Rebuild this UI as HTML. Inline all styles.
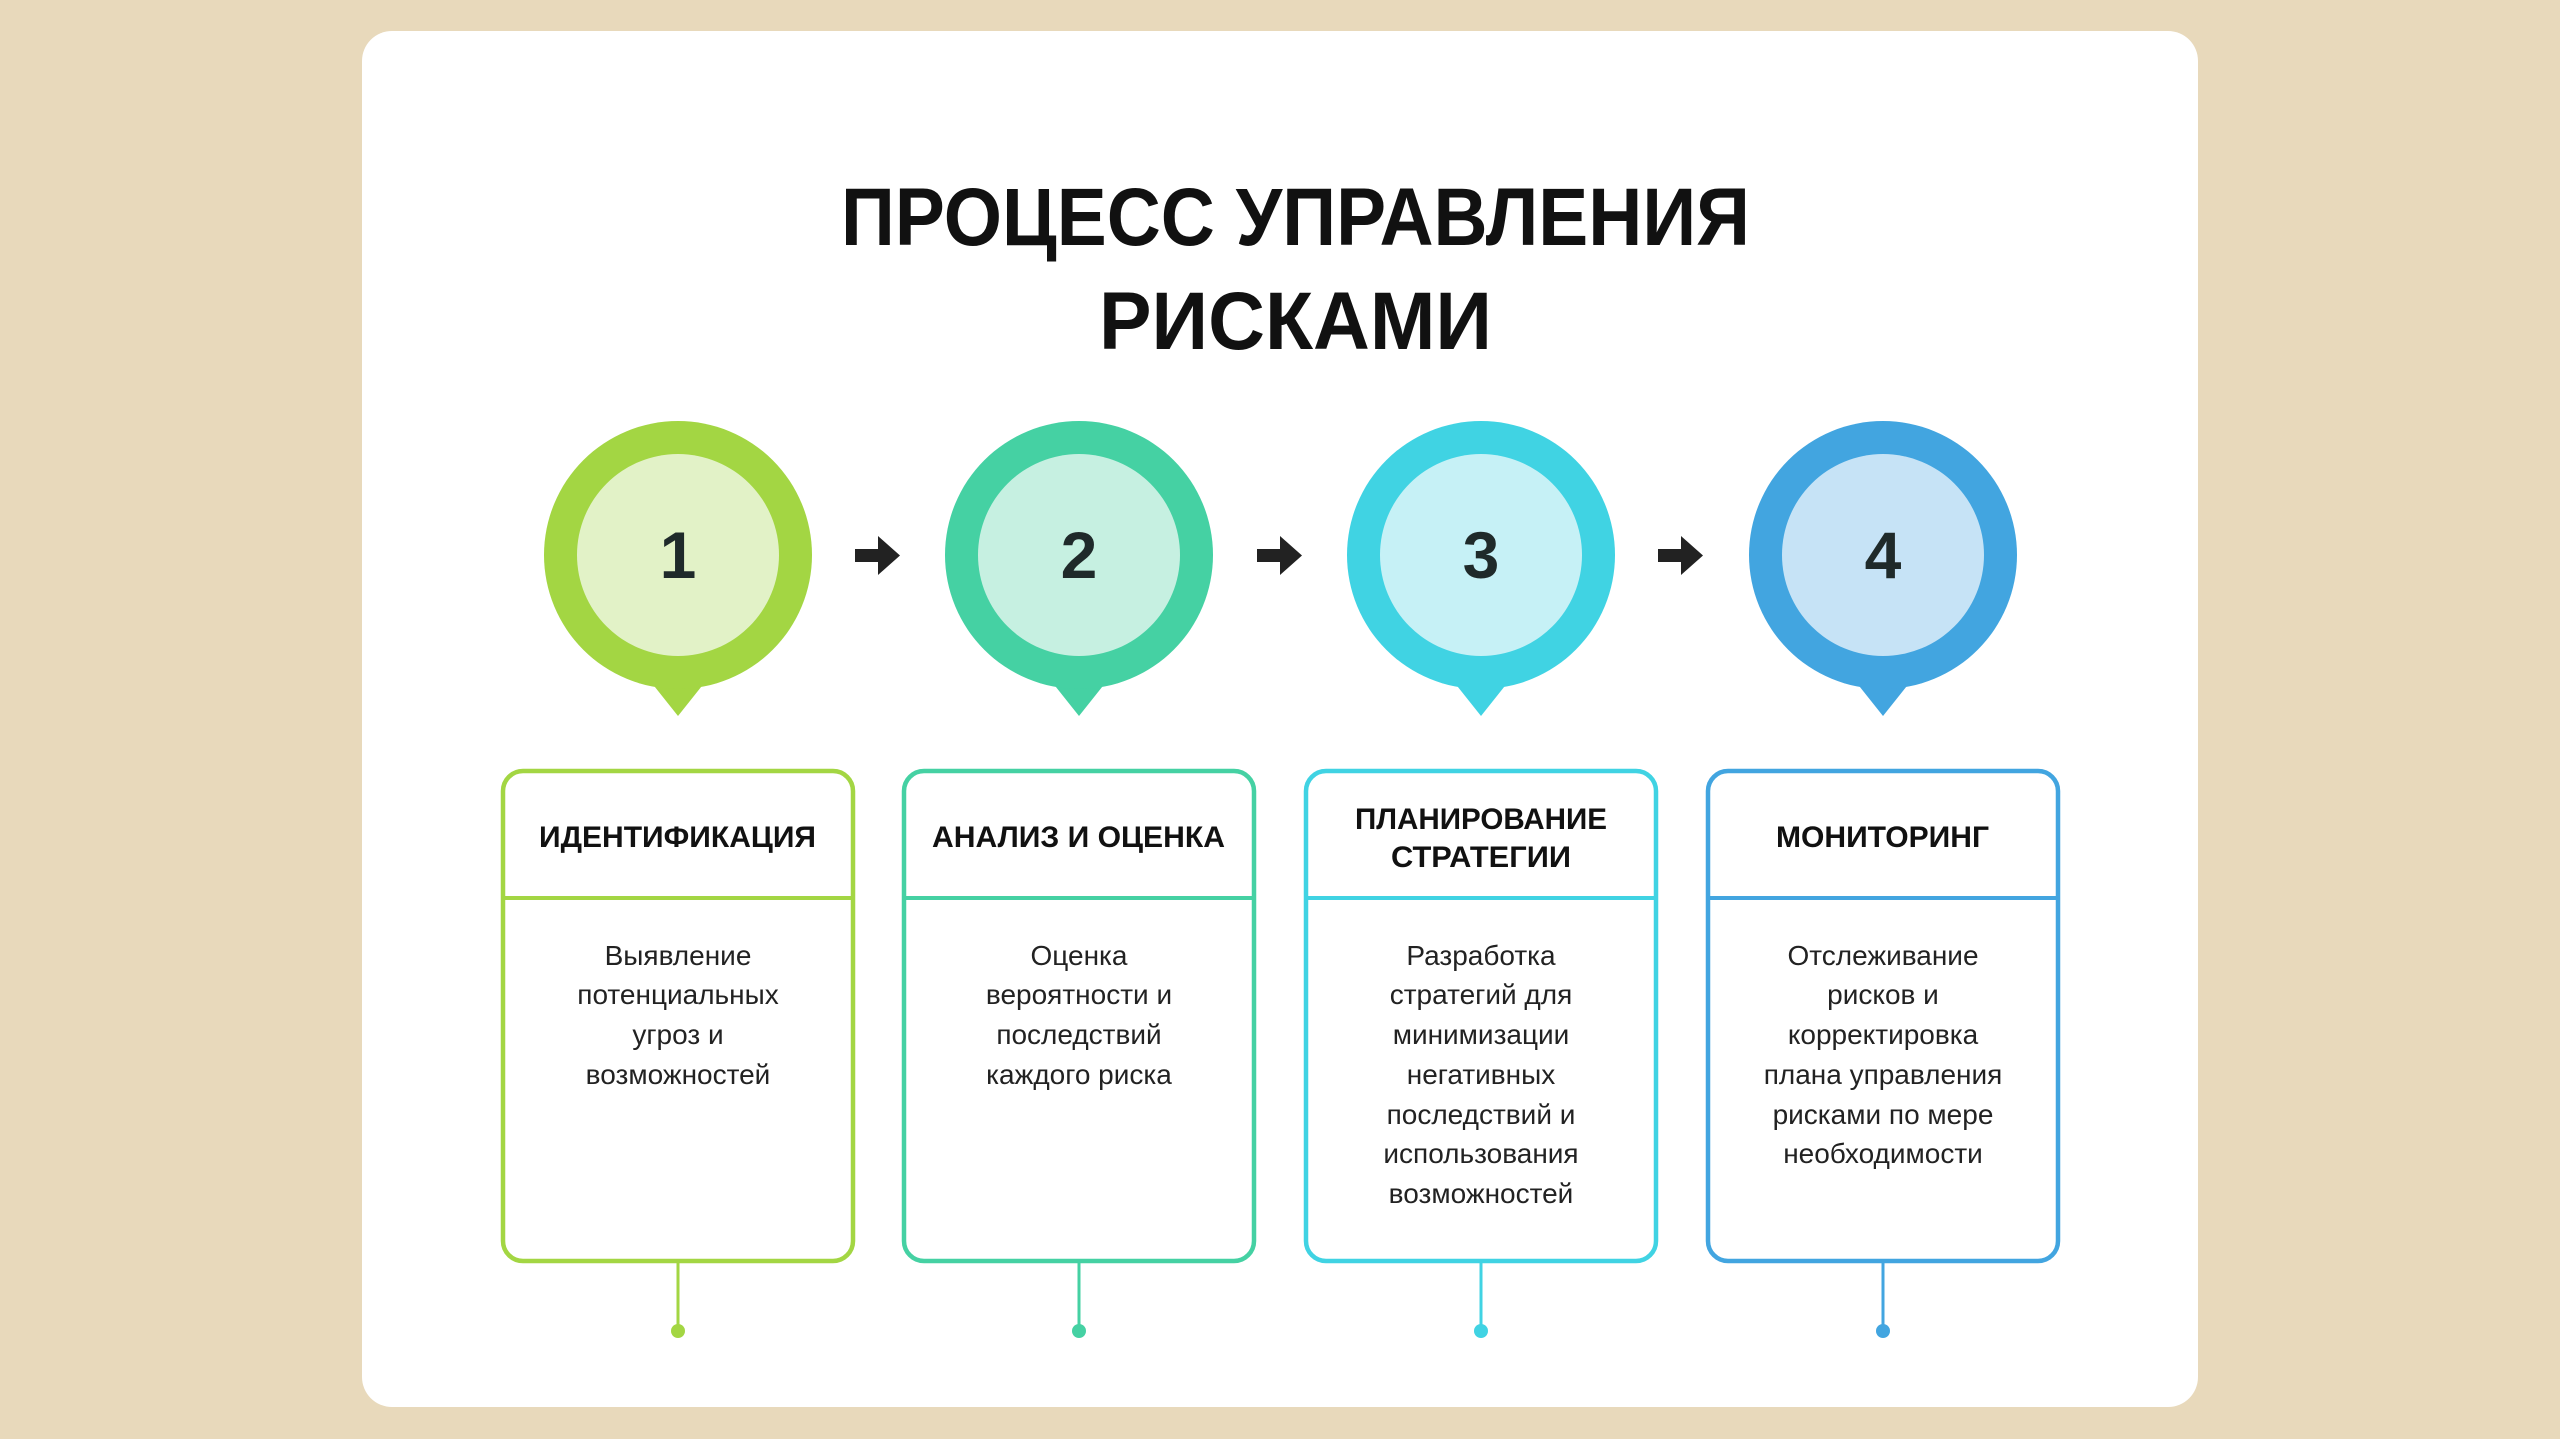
<!DOCTYPE html>
<html><head><meta charset="utf-8"><style>
html,body{margin:0;padding:0;background:#e8d9bb;}
svg{display:block;}
</style></head><body>
<svg width="2560" height="1439" viewBox="0 0 2560 1439" xmlns="http://www.w3.org/2000/svg" font-family="Liberation Sans, sans-serif">
<rect x="0" y="0" width="2560" height="1439" fill="#e8d9bb"/>
<rect x="362" y="31" width="1836" height="1376" rx="30" fill="#ffffff"/>
<text x="841" y="245" font-size="82" font-weight="bold" fill="#111" textLength="909" lengthAdjust="spacingAndGlyphs">ПРОЦЕСС УПРАВЛЕНИЯ</text>
<text x="1099" y="349" font-size="82" font-weight="bold" fill="#111" textLength="393" lengthAdjust="spacingAndGlyphs">РИСКАМИ</text>

<!-- arrows -->
<g fill="#222">
<rect x="855" y="549" width="26" height="13"/><polygon points="878,536 900,555.5 878,575"/>
<rect x="1257" y="549" width="26" height="13"/><polygon points="1280,536 1302,555.5 1280,575"/>
<rect x="1658" y="549" width="26" height="13"/><polygon points="1681,536 1703,555.5 1681,575"/>
</g>

<!-- step 1 -->
<g>
<polygon points="643,672 713,672 678,716" fill="#a3d643"/>
<circle cx="678" cy="555" r="134" fill="#a3d643"/>
<circle cx="678" cy="555" r="101" fill="#e2f2c7"/>
<text x="678" y="578" font-size="66" font-weight="bold" fill="#1f2a2a" text-anchor="middle">1</text>
<rect x="503" y="771" width="350" height="490" rx="20" fill="#fff" stroke="#a3d643" stroke-width="4.5"/>
<line x1="503" y1="898" x2="853" y2="898" stroke="#a3d643" stroke-width="4"/>
<text x="539" y="847" font-size="30" font-weight="bold" fill="#111" textLength="277" lengthAdjust="spacingAndGlyphs">ИДЕНТИФИКАЦИЯ</text>
<g font-size="28" fill="#222" text-anchor="middle">
<text x="678" y="965">Выявление</text>
<text x="678" y="1004">потенциальных</text>
<text x="678" y="1044">угроз и</text>
<text x="678" y="1084">возможностей</text>
</g>
<line x1="678" y1="1262" x2="678" y2="1331" stroke="#a3d643" stroke-width="3"/>
<circle cx="678" cy="1331" r="7" fill="#a3d643"/>
</g>

<!-- step 2 -->
<g>
<polygon points="1044,672 1114,672 1079,716" fill="#45d1a3"/>
<circle cx="1079" cy="555" r="134" fill="#45d1a3"/>
<circle cx="1079" cy="555" r="101" fill="#c6f0e1"/>
<text x="1079" y="578" font-size="66" font-weight="bold" fill="#1f2a2a" text-anchor="middle">2</text>
<rect x="904" y="771" width="350" height="490" rx="20" fill="#fff" stroke="#45d1a3" stroke-width="4.5"/>
<line x1="904" y1="898" x2="1254" y2="898" stroke="#45d1a3" stroke-width="4"/>
<text x="932" y="847" font-size="30" font-weight="bold" fill="#111" textLength="293" lengthAdjust="spacingAndGlyphs">АНАЛИЗ И ОЦЕНКА</text>
<g font-size="28" fill="#222" text-anchor="middle">
<text x="1079" y="965">Оценка</text>
<text x="1079" y="1004">вероятности и</text>
<text x="1079" y="1044">последствий</text>
<text x="1079" y="1084">каждого риска</text>
</g>
<line x1="1079" y1="1262" x2="1079" y2="1331" stroke="#45d1a3" stroke-width="3"/>
<circle cx="1079" cy="1331" r="7" fill="#45d1a3"/>
</g>

<!-- step 3 -->
<g>
<polygon points="1446,672 1516,672 1481,716" fill="#40d3e3"/>
<circle cx="1481" cy="555" r="134" fill="#40d3e3"/>
<circle cx="1481" cy="555" r="101" fill="#c6f1f6"/>
<text x="1481" y="578" font-size="66" font-weight="bold" fill="#1f2a2a" text-anchor="middle">3</text>
<rect x="1306" y="771" width="350" height="490" rx="20" fill="#fff" stroke="#40d3e3" stroke-width="4.5"/>
<line x1="1306" y1="898" x2="1656" y2="898" stroke="#40d3e3" stroke-width="4"/>
<text x="1355" y="829" font-size="30" font-weight="bold" fill="#111" textLength="252" lengthAdjust="spacingAndGlyphs">ПЛАНИРОВАНИЕ</text>
<text x="1391" y="867" font-size="30" font-weight="bold" fill="#111" textLength="180" lengthAdjust="spacingAndGlyphs">СТРАТЕГИИ</text>
<g font-size="28" fill="#222" text-anchor="middle">
<text x="1481" y="965">Разработка</text>
<text x="1481" y="1004">стратегий для</text>
<text x="1481" y="1044">минимизации</text>
<text x="1481" y="1084">негативных</text>
<text x="1481" y="1124">последствий и</text>
<text x="1481" y="1163">использования</text>
<text x="1481" y="1203">возможностей</text>
</g>
<line x1="1481" y1="1262" x2="1481" y2="1331" stroke="#40d3e3" stroke-width="3"/>
<circle cx="1481" cy="1331" r="7" fill="#40d3e3"/>
</g>

<!-- step 4 -->
<g>
<polygon points="1848,672 1918,672 1883,716" fill="#42a5e0"/>
<circle cx="1883" cy="555" r="134" fill="#42a5e0"/>
<circle cx="1883" cy="555" r="101" fill="#c6e3f6"/>
<text x="1883" y="578" font-size="66" font-weight="bold" fill="#1f2a2a" text-anchor="middle">4</text>
<rect x="1708" y="771" width="350" height="490" rx="20" fill="#fff" stroke="#42a5e0" stroke-width="4.5"/>
<line x1="1708" y1="898" x2="2058" y2="898" stroke="#42a5e0" stroke-width="4"/>
<text x="1776" y="847" font-size="30" font-weight="bold" fill="#111" textLength="213" lengthAdjust="spacingAndGlyphs">МОНИТОРИНГ</text>
<g font-size="28" fill="#222" text-anchor="middle">
<text x="1883" y="965">Отслеживание</text>
<text x="1883" y="1004">рисков и</text>
<text x="1883" y="1044">корректировка</text>
<text x="1883" y="1084">плана управления</text>
<text x="1883" y="1124">рисками по мере</text>
<text x="1883" y="1163">необходимости</text>
</g>
<line x1="1883" y1="1262" x2="1883" y2="1331" stroke="#42a5e0" stroke-width="3"/>
<circle cx="1883" cy="1331" r="7" fill="#42a5e0"/>
</g>
</svg>
</body></html>
